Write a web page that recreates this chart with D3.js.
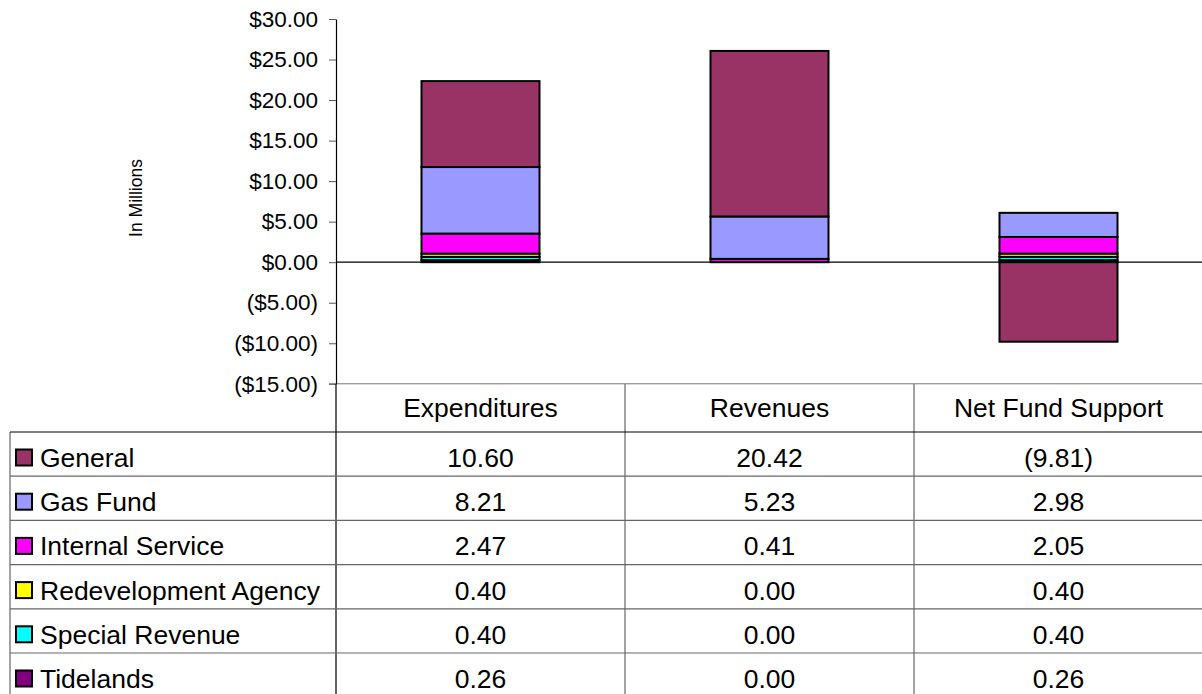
<!DOCTYPE html>
<html>
<head>
<meta charset="utf-8">
<script src="https://cdn.jsdelivr.net/npm/d3@7"></script>
<style>
  html, body { margin: 0; padding: 0; background: #fff; }
  svg { display: block; font-family: "Liberation Sans", Arial, sans-serif; }
</style>
</head>
<body>
<svg id="chart" width="1202" height="694"></svg>
<script>
// Fund categories (columns) and fund series (rows), in legend order
const categories = ["Expenditures", "Revenues", "Net Fund Support"];
const funds = ["General", "Gas Fund", "Internal Service", "Redevelopment Agency", "Special Revenue", "Tidelands"];
const fundColors = ["#993366", "#9999FF", "#FF00FF", "#FFFF00", "#00FFFF", "#800080"];

// Values in millions, one array per fund, ordered as categories
const general = [10.60, 20.42, -9.81];
const gasFund = [8.21, 5.23, 2.98];
const internalService = [2.47, 0.41, 2.05];
const redevelopmentAgency = [0.40, 0.00, 0.40];
const specialRevenue = [0.40, 0.00, 0.40];
const tidelands = [0.26, 0.00, 0.26];

const yTicks = [30, 25, 20, 15, 10, 5, 0, -5, -10, -15];

const seriesValues = [general, gasFund, internalService, redevelopmentAgency, specialRevenue, tidelands];

const rows = categories.map((c, i) => {
  const r = { category: c };
  funds.forEach((f, j) => { r[f] = seriesValues[j][i]; });
  return r;
});

const svg = d3.select("#chart");
const plotLeft = 336, plotRight = 1203;

const x = d3.scaleBand().domain(categories).range([plotLeft, plotLeft + 289 * 3]).paddingInner(0).paddingOuter(0);
const y = d3.scaleLinear().domain([-15, 30]).range([383.8, 19]);
const color = d3.scaleOrdinal().domain(funds).range(fundColors);

// Stack from the bottom: Tidelands first, General on top / below zero
const stackKeys = funds.slice().reverse();
const stacked = d3.stack().keys(stackKeys).offset(d3.stackOffsetDiverging)(rows);

const barW = 118;

// plot bottom border
svg.append("line")
  .attr("x1", plotLeft - 7).attr("x2", plotRight)
  .attr("y1", y(-15)).attr("y2", y(-15))
  .attr("stroke", "#777").attr("stroke-width", 1);

// bars
const layer = svg.append("g").selectAll("g").data(stacked).join("g")
  .attr("fill", d => color(d.key));
layer.selectAll("rect").data(d => d).join("rect")
  .attr("x", d => x(d.data.category) + (x.bandwidth() - barW) / 2)
  .attr("width", barW)
  .attr("y", d => y(Math.max(d[0], d[1])))
  .attr("height", d => Math.abs(y(d[0]) - y(d[1])))
  .attr("stroke", "#000").attr("stroke-width", 2);

// zero line
svg.append("line")
  .attr("x1", plotLeft).attr("x2", plotRight)
  .attr("y1", y(0)).attr("y2", y(0))
  .attr("stroke", "#000").attr("stroke-width", 1.2);

// y axis
const fmt = v => v < 0 ? "($" + d3.format(".2f")(-v) + ")" : "$" + d3.format(".2f")(v);
const yAxis = d3.axisLeft(y).tickValues(yTicks).tickFormat(fmt).tickSize(7).tickSizeOuter(0).tickPadding(11);
const gy = svg.append("g").attr("transform", `translate(${plotLeft},0)`).call(yAxis);
gy.select(".domain").attr("stroke", "#000").attr("stroke-width", 1.2);
gy.selectAll(".tick line").attr("stroke", "#555");
gy.selectAll(".tick text").attr("font-size", 22.5).attr("fill", "#000")
  .attr("font-family", "'Liberation Sans', Arial, sans-serif");

// axis title
svg.append("text")
  .attr("transform", "translate(142,198) rotate(-90)")
  .attr("text-anchor", "middle")
  .attr("font-size", 17.5)
  .text("In Millions");

// data table
const headTop = 384, tableTop = 432, rowH = 44.2, tableBottom = 700;
const tableFont = 26.5;
const tg = svg.append("g");

// header category labels
tg.selectAll("text.head").data(categories).join("text")
  .attr("class", "head")
  .attr("x", d => x(d) + x.bandwidth() / 2)
  .attr("y", 417)
  .attr("text-anchor", "middle")
  .attr("font-size", tableFont)
  .text(d => d);

// vertical dividers
const vlines = [plotLeft, x(categories[1]), x(categories[2])];
tg.selectAll("line.v").data(vlines).join("line")
  .attr("x1", d => d).attr("x2", d => d)
  .attr("y1", headTop).attr("y2", tableBottom)
  .attr("stroke", (d, i) => i === 0 ? "#000" : "#666").attr("stroke-width", 1.2);
tg.append("line")
  .attr("x1", 10).attr("x2", 10).attr("y1", tableTop).attr("y2", tableBottom)
  .attr("stroke", "#666").attr("stroke-width", 1.2);

// horizontal rules
const hl = d3.range(funds.length).map(i => tableTop + i * rowH);
tg.selectAll("line.h").data(hl).join("line")
  .attr("x1", 10).attr("x2", plotRight)
  .attr("y1", d => d).attr("y2", d => d)
  .attr("stroke", (d, i) => i === 0 ? "#000" : "#666").attr("stroke-width", 1.2);

// legend cells
const leg = tg.selectAll("g.leg").data(funds).join("g")
  .attr("class", "leg")
  .attr("transform", (d, i) => `translate(0,${tableTop + i * rowH + 35})`);
leg.append("rect")
  .attr("x", 16).attr("y", -17.5).attr("width", 16).attr("height", 16)
  .attr("fill", d => color(d)).attr("stroke", "#000").attr("stroke-width", 2);
leg.append("text")
  .attr("x", 40)
  .attr("font-size", tableFont)
  .text(d => d);

// value cells
const valFmt = v => v < 0 ? "(" + d3.format(".2f")(-v) + ")" : d3.format(".2f")(v);
funds.forEach((f, i) => {
  tg.selectAll(null).data(rows).join("text")
    .attr("x", d => x(d.category) + x.bandwidth() / 2)
    .attr("y", tableTop + i * rowH + 35)
    .attr("text-anchor", "middle")
    .attr("font-size", tableFont)
    .text(d => valFmt(d[f]));
});
</script>
</body>
</html>
